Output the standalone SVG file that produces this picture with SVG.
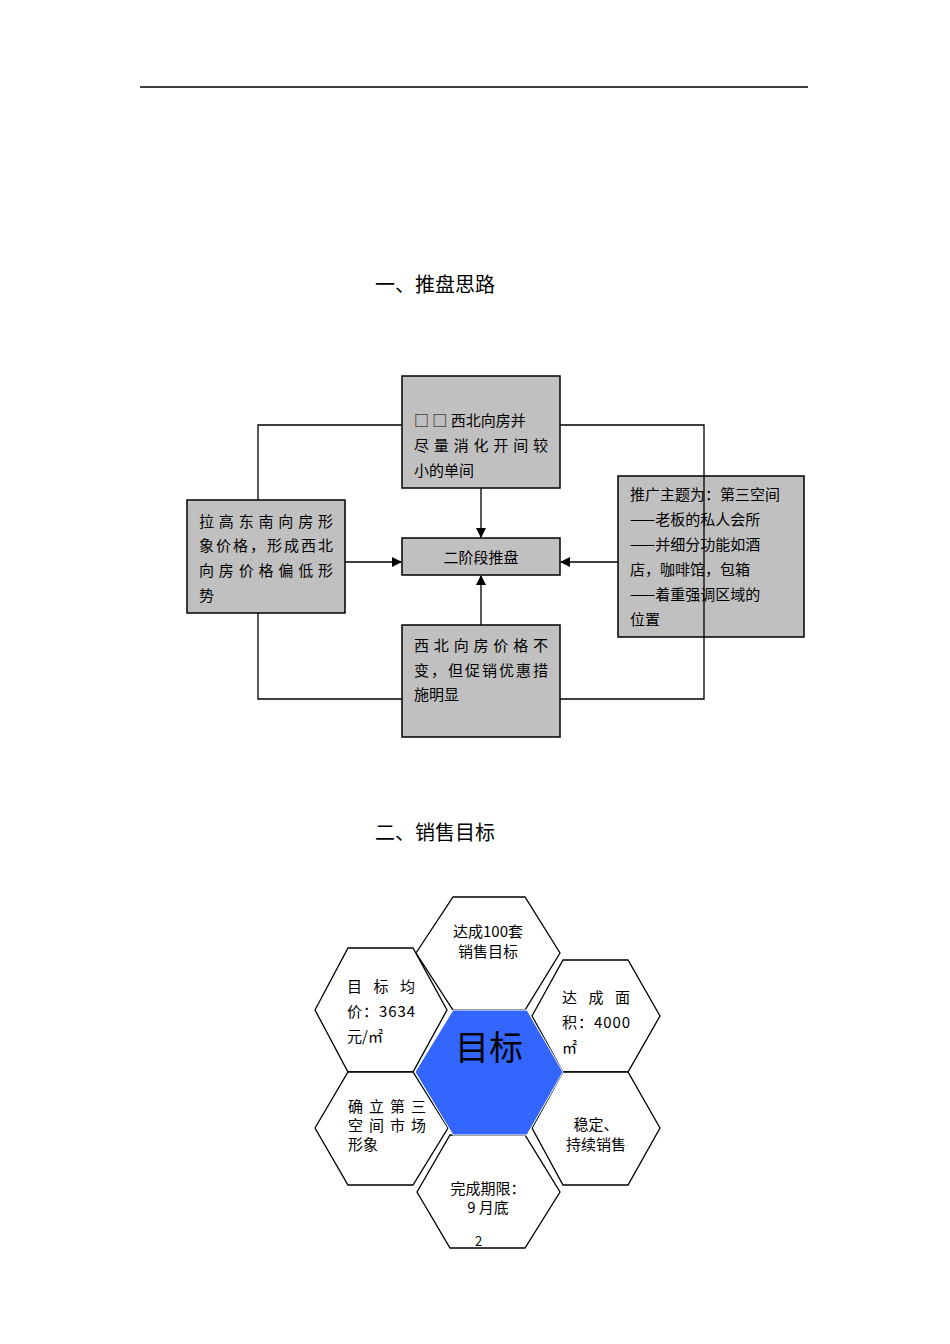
<svg xmlns="http://www.w3.org/2000/svg" width="950" height="1344" viewBox="0 0 950 1344">
<style>
text{font-family:"Noto Sans CJK SC","Liberation Serif",serif;fill:#000}
.b{fill:#c0c0c0;stroke:#000;stroke-width:1.5}
.l{fill:none;stroke:#000;stroke-width:1.3}
.h{fill:#fff;stroke:#000;stroke-width:1.3}
.t{font-size:15px}
.s{font-size:15px}
</style>
<defs><marker id="a" markerWidth="10" markerHeight="10" refX="9" refY="5" orient="auto" markerUnits="userSpaceOnUse"><path d="M0,0 L10,5 L0,10 z"/></marker></defs>
<rect width="950" height="1344" fill="#fff"/>
<line x1="140" y1="87" x2="808" y2="87" stroke="#000" stroke-width="1.3"/>
<text x="375" y="292" font-size="20">一、推盘思路</text>
<text x="375" y="840" font-size="20">二、销售目标</text>
<g id="connectors">
<path class="l" d="M402,425 H258 V500 M258,613 V699 H402 M560,425 H704 V637 M704,637 V699 H560"/>
<line class="l" x1="481" y1="488" x2="481" y2="537" marker-end="url(#a)"/>
<line class="l" x1="481" y1="625" x2="481" y2="576" marker-end="url(#a)"/>
<line class="l" x1="345" y1="562" x2="401" y2="562" marker-end="url(#a)"/>
<line class="l" x1="618" y1="562" x2="561" y2="562" marker-end="url(#a)"/>
</g>
<g id="top"><rect class="b" x="402" y="376" width="158" height="112"/>
<text class="t" x="414" y="426">□ □ 西北向房并</text><text class="t" x="414" y="451" textLength="134">尽量消化开间较</text><text class="t" x="414" y="476">小的单间</text></g>
<g id="center"><rect class="b" x="402" y="538" width="158" height="37"/><text class="t" x="481" y="563" text-anchor="middle">二阶段推盘</text></g>
<g id="left"><rect class="b" x="187" y="500" width="158" height="113"/>
<text class="t" x="199" y="527" textLength="134">拉高东南向房形</text><text class="t" x="199" y="551" textLength="134">象价格，形成西北</text><text class="t" x="199" y="576" textLength="134">向房价格偏低形</text><text class="t" x="199" y="601">势</text></g>
<g id="right"><rect class="b" x="618" y="476" width="186" height="161"/>
<text class="t" x="630" y="500">推广主题为：第三空间</text><text class="t" x="630" y="525">——老板的私人会所</text><text class="t" x="630" y="550">——并细分功能如酒</text><text class="t" x="630" y="575">店，咖啡馆，包箱</text><text class="t" x="630" y="600">——着重强调区域的</text><text class="t" x="630" y="625">位置</text></g>
<path class="l" d="M704,476 V637"/>
<g id="bottom"><rect class="b" x="402" y="625" width="158" height="112"/>
<text class="t" x="414" y="651" textLength="134">西北向房价格不</text><text class="t" x="414" y="676" textLength="134">变，但促销优惠措</text><text class="t" x="414" y="700">施明显</text></g>
<g id="hex-top"><polygon class="h" points="416,953 453,897 525,897 560,953 525,1010 453,1010"/><text class="s" x="488" y="937" text-anchor="middle">达成100套</text><text class="s" x="488" y="957" text-anchor="middle">销售目标</text></g>
<g id="hex-tl"><polygon class="h" points="315,1010 348,948 413,948 447,1010 413,1072 348,1072"/><text class="s" x="347" y="992" textLength="68">目 标 均</text><text class="s" x="347" y="1017" textLength="68">价：3634</text><text class="s" x="347" y="1042">元/㎡</text></g>
<g id="hex-tr"><polygon class="h" points="532,1016 563,960 628,960 660,1016 628,1072 563,1072"/><text class="s" x="562" y="1003" textLength="68">达 成 面</text><text class="s" x="562" y="1028" textLength="68">积：4000</text><text class="s" x="562" y="1053">㎡</text></g>
<g id="hex-bl"><polygon class="h" points="315,1128 348,1072 413,1072 448,1128 413,1185 348,1185"/><text class="s" x="348" y="1112" textLength="78">确 立 第 三</text><text class="s" x="348" y="1131" textLength="78">空 间 市 场</text><text class="s" x="348" y="1150">形象</text></g>
<g id="hex-br"><polygon class="h" points="532,1128 563,1072 628,1072 660,1128 628,1185 563,1185"/><text class="s" x="596" y="1130" text-anchor="middle">稳定、</text><text class="s" x="596" y="1150" text-anchor="middle">持续销售</text></g>
<g id="hex-b"><polygon class="h" points="417,1192 450,1135 525,1135 560,1192 525,1248 450,1248"/><text class="s" x="488" y="1194" text-anchor="middle">完成期限：</text><text class="s" x="488" y="1213" text-anchor="middle">9 月底</text><text x="475" y="1246" font-size="13">2</text></g>
<g id="hex-center"><polygon points="415,1072 453,1010 527,1010 563,1072 527,1135 453,1135" fill="#3366ff" stroke="#fff" stroke-width="1"/><text x="489" y="1060" font-size="34" text-anchor="middle">目标</text></g>
</svg>
